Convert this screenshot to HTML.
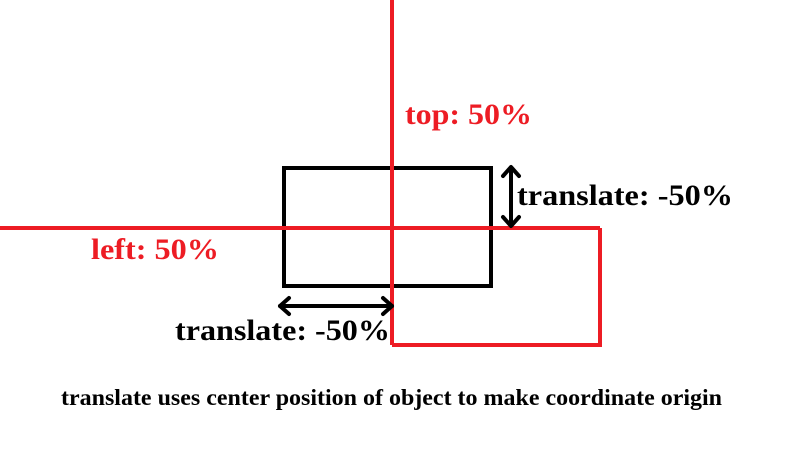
<!DOCTYPE html>
<html><head><style>html,body{margin:0;padding:0;background:#fff;}svg{display:block}</style></head>
<body>
<svg width="788" height="456" viewBox="0 0 788 456" xmlns="http://www.w3.org/2000/svg">
<rect x="0" y="0" width="788" height="456" fill="#fff"/>
<rect x="284" y="168" width="207" height="118" fill="none" stroke="#000" stroke-width="4"/>
<line x1="392" y1="0" x2="392" y2="345" stroke="#ed1c24" stroke-width="4"/>
<line x1="0" y1="228" x2="600" y2="228" stroke="#ed1c24" stroke-width="4"/>
<polyline points="392,345 600,345 600,228" fill="none" stroke="#ed1c24" stroke-width="4"/>
<g stroke="#000" stroke-width="4" fill="none" stroke-linecap="round" stroke-linejoin="round">
<line x1="511" y1="168" x2="511" y2="225"/>
<polyline points="503,176 511,167 519,176"/>
<polyline points="503,217 511,226 519,217"/>
<line x1="280" y1="306" x2="392" y2="306"/>
<polyline points="289,298 280,306 289,314"/>
<polyline points="383,298 392,306 383,314"/>
</g>
<g style="font-family:'Liberation Serif',serif;font-weight:bold" font-size="30">
<text x="405" y="124" fill="#ed1c24" textLength="127" lengthAdjust="spacingAndGlyphs">top: 50%</text>
<text x="517" y="205" fill="#000" textLength="216" lengthAdjust="spacingAndGlyphs">translate: -50%</text>
<text x="91" y="259" fill="#ed1c24" textLength="128" lengthAdjust="spacingAndGlyphs">left: 50%</text>
<text x="175" y="340" fill="#000" textLength="215" lengthAdjust="spacingAndGlyphs">translate: -50%</text>
<text x="61" y="405" fill="#000" font-size="23" textLength="661" lengthAdjust="spacingAndGlyphs">translate uses center position of object to make coordinate origin</text>
</g>
</svg>
</body></html>
